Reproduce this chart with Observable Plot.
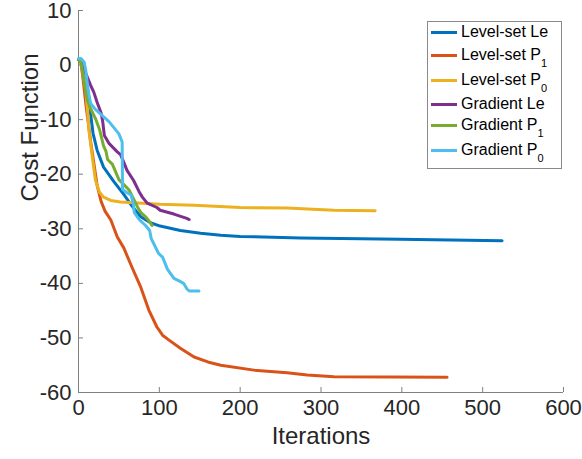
<!DOCTYPE html>
<html><head><meta charset="utf-8">
<script src="https://cdn.jsdelivr.net/npm/d3@7"></script>
<script src="https://cdn.jsdelivr.net/npm/@observablehq/plot@0.6"></script>
<style>
body{margin:0;background:#fff;}
#wrap{position:relative;width:582px;height:459px;font-family:"Liberation Sans",Arial,sans-serif;}
#legend{position:absolute;left:427px;top:21px;width:135px;height:148px;border:1px solid #8a8a8a;background:#fff;box-sizing:border-box;}
.row{position:absolute;left:0;height:20px;display:flex;align-items:center;font-size:16px;color:#000;white-space:nowrap;}
.sw{width:26px;height:3px;margin-left:3px;margin-right:4px;}
sub{font-size:11px;vertical-align:-7px;line-height:0;}
</style>
</head><body>
<div id="wrap"><div id="chart"></div><div id="legend"></div></div>
<script>
const seriesNames = ["Level-set Le","Level-set P1","Level-set P0","Gradient Le","Gradient P1","Gradient P0"];
const legendBase = ["Level-set Le","Level-set P","Level-set P","Gradient Le","Gradient P","Gradient P"];
const legendSub = ["","1","0","","1","0"];
const seriesColors = ["#0072BD","#D95319","#EDB120","#7E2F8E","#77AC30","#4DBEEE"];
const xTicks = [0,100,200,300,400,500,600];
const yTicks = [10,0,-10,-20,-30,-40,-50,-60];

const lsLeIter = [0,4,8,12,15,18,23,31,44,56,66,77,89,101,126,151,176,200,275,398,524];
const lsLeCost = [1,0.5,-2.5,-6,-9,-12.5,-15.6,-18.7,-21.4,-23.7,-25.8,-27.8,-28.9,-29.5,-30.3,-30.8,-31.2,-31.4,-31.7,-31.9,-32.2];

const lsP1Iter = [0,3,6,9,12,15,19,23,28,33,40,48,56,66,77,87,97,104,112,126,143,160,176,217,258,283,316,456];
const lsP1Cost = [1,0.5,-3,-7,-10.5,-14,-18,-22,-25,-26.8,-28.4,-31.5,-33.5,-37,-40.7,-44.9,-48,-49.5,-50.4,-51.9,-53.5,-54.4,-55,-55.9,-56.4,-56.8,-57.1,-57.2];

const lsP0Iter = [0,3,6,9,11,13,17,21,26,31,40,52,101,143,200,258,290,316,367];
const lsP0Cost = [1,1,-2,-4.6,-8,-12,-16.8,-21.1,-23.3,-24.2,-24.8,-25.1,-25.5,-25.7,-26.1,-26.2,-26.4,-26.6,-26.7];

const grLeIter = [0,2,9,15,19,23,28,30,32,38,48,52,56,60,68,75,79,85,97,101,118,134,137];
const grLeCost = [1,1,-1.5,-3.7,-5,-6.8,-8.8,-10.4,-12.9,-14.4,-15.9,-16.4,-17.8,-19.3,-21.1,-23.2,-24.2,-25.3,-26.1,-26.6,-27.3,-28.1,-28.3];

const grP1Iter = [0,3,7,11,15,21,26,31,34,36,42,50,60,63,73,77,83,87,91];
const grP1Cost = [1,0.5,-3,-6.5,-8,-9.8,-11.8,-14.8,-15.8,-17.3,-18.2,-21,-22.5,-23,-26,-27,-27.8,-28.5,-29.4];

const grP0Iter = [0,3,7,9,11,13,15,20,26,38,50,54,54.5,60,65,68,69,75,83,88,90,93,99,104,110,118,125,130,134,137,149];
const grP0Cost = [1.2,1.2,0.5,-1,-3.5,-5.5,-7,-8,-8.8,-10.4,-12.6,-14.1,-22.8,-23.4,-23.8,-25.5,-27,-28.3,-29.4,-30.3,-31.8,-32.7,-34.5,-35.2,-37.4,-39.1,-39.6,-40,-41,-41.4,-41.4];

const iters = [lsLeIter, lsP1Iter, lsP0Iter, grLeIter, grP1Iter, grP0Iter];
const costs = [lsLeCost, lsP1Cost, lsP0Cost, grLeCost, grP1Cost, grP0Cost];
const rows = seriesNames.flatMap((s, i) => iters[i].map((x, j) => ({series: s, x, y: costs[i][j]})));

const font = '"Liberation Sans", Arial, sans-serif';
const chart = Plot.plot({
  width: 582, height: 459,
  marginLeft: 78, marginRight: 19, marginTop: 10, marginBottom: 67,
  style: {fontFamily: font, background: "white", color: "#262626", overflow: "visible"},
  x: {domain: [0, 600]},
  y: {domain: [-60, 10]},
  color: {domain: seriesNames, range: seriesColors},
  marks: [
    Plot.axisX({ticks: xTicks, tickSize: -5, tickPadding: 12, fontSize: 22, label: null, stroke: "#808080", tickFormat: d => String(d)}),
    Plot.axisY({ticks: yTicks, tickSize: -5, tickPadding: 12, fontSize: 22, label: null, stroke: "#808080", tickFormat: d => String(d)}),
    Plot.ruleX([0], {stroke: "#808080"}),
    Plot.ruleY([-60], {stroke: "#808080"}),
    Plot.text(["Iterations"], {frameAnchor: "bottom", dy: 51, fontSize: 24, fill: "#262626"}),
    Plot.text(["Cost Function"], {frameAnchor: "left", dx: -48, rotate: -90, fontSize: 24, fill: "#262626"}),
    Plot.line(rows, {x: "x", y: "y", z: "series", stroke: "series", strokeWidth: 3, strokeLinejoin: "round", curve: "linear"})
  ]
});
document.getElementById("chart").appendChild(chart);

const legendCenters = [31, 54, 79, 103, 124, 149];
const lg = document.getElementById("legend");
seriesNames.forEach((s, i) => {
  const r = document.createElement("div");
  r.className = "row";
  r.style.top = (legendCenters[i] - 21 - 10) + "px";
  const sw = document.createElement("div");
  sw.className = "sw";
  sw.style.background = seriesColors[i];
  r.appendChild(sw);
  const t = document.createElement("span");
  t.textContent = legendBase[i];
  if (legendSub[i]) {
    const sb = document.createElement("sub");
    sb.textContent = legendSub[i];
    t.appendChild(sb);
  }
  r.appendChild(t);
  lg.appendChild(r);
});
</script>
</body></html>
